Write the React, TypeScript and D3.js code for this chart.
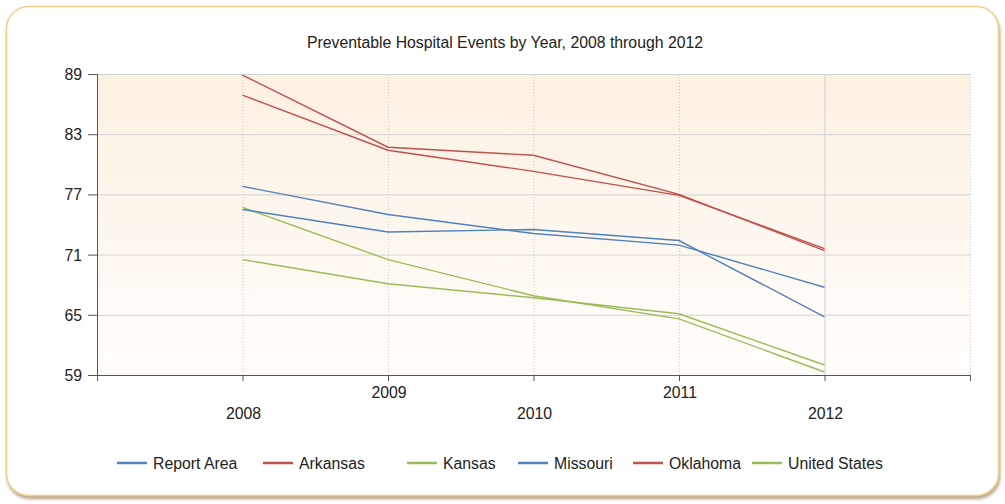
import React from "react";
import * as d3 from "d3";

const years = [2008, 2009, 2010, 2011, 2012];
const yTicks = [59, 65, 71, 77, 83, 89];
const seriesNames = ["Report Area", "Arkansas", "Kansas", "Missouri", "Oklahoma", "United States"];
const seriesColors = ["#4f81bd", "#c0504d", "#9bbb59", "#4f81bd", "#c0504d", "#9bbb59"];
const reportArea = [77.8, 75.0, 73.1, 71.95, 67.75];
const arkansas = [88.9, 81.7, 80.9, 77.0, 71.4];
const kansas = [75.7, 70.5, 66.9, 64.6, 59.3];
const missouri = [75.5, 73.25, 73.5, 72.4, 64.8];
const oklahoma = [86.9, 81.4, 79.3, 76.9, 71.6];
const unitedStates = [70.5, 68.1, 66.7, 65.1, 60.0];
const seriesValues = [reportArea, arkansas, kansas, missouri, oklahoma, unitedStates];
const title = "Preventable Hospital Events by Year, 2008 through 2012";

const W = 1005;
const H = 504;
const FONT = "'Liberation Sans', Arial, sans-serif";
const FS = 15.8;

export default function App() {
  const x = d3.scaleLinear().domain([2007, 2013]).range([97, 970]);
  const y = d3.scaleLinear().domain([59, 89]).range([375, 74]);
  const line = d3
    .line<number>()
    .x((_, i) => x(years[i]))
    .y((d) => y(d));
  const xAll = d3.range(2007, 2014);
  const legendX = [117, 263, 407, 518, 633, 752];
  const legendY = 463;

  return (
    <svg
      width={W}
      height={H}
      style={{ position: "absolute", left: 0, top: 0 }}
      fontFamily={FONT}
    >
      <defs>
        <linearGradient id="bg" x1="0" y1="0" x2="0" y2="1">
          <stop offset="0%" stopColor="#fcf0e1" />
          <stop offset="100%" stopColor="#fffdfb" />
        </linearGradient>
        <filter id="shadow" x="-5%" y="-5%" width="110%" height="115%">
          <feDropShadow dx="1" dy="3" stdDeviation="1.5" floodColor="#9a8260" floodOpacity="0.7" />
        </filter>
      </defs>
      <rect x={0} y={0} width={W} height={H} fill="#ffffff" />
      <rect
        x={6.5}
        y={6.5}
        width={992}
        height={489}
        rx={22}
        fill="#ffffff"
        stroke="#f2cf86"
        strokeWidth={1.5}
        filter="url(#shadow)"
      />
      <text x={505} y={48} textAnchor="middle" fontSize={FS} fill="#222">
        {title}
      </text>
      {/* plot background */}
      <rect x={x(2007)} y={y(89)} width={x(2013) - x(2007)} height={y(59) - y(89)} fill="url(#bg)" />
      {/* horizontal grid */}
      {yTicks.slice(1).map((t) => (
        <line key={t} x1={x(2007)} x2={x(2013)} y1={y(t) + 0.5} y2={y(t) + 0.5} stroke="#d3d3d3" strokeWidth={1} />
      ))}
      {/* vertical grid */}
      {xAll.slice(1).map((t) => (
        <line
          key={t}
          x1={x(t) + 0.5}
          x2={x(t) + 0.5}
          y1={y(89)}
          y2={y(59)}
          stroke={t === 2012 ? "#d0d0d0" : "#c8c8c8"}
          strokeWidth={1}
          strokeDasharray={t === 2012 ? undefined : "1,2"}
        />
      ))}
      {/* axes */}
      <line x1={x(2007) + 0.5} x2={x(2007) + 0.5} y1={y(89)} y2={y(59) + 5} stroke="#555" strokeWidth={1} />
      <line x1={x(2007)} x2={x(2013) + 1} y1={y(59) + 0.5} y2={y(59) + 0.5} stroke="#555" strokeWidth={1} />
      {yTicks.map((t) => (
        <g key={t}>
          <line x1={x(2007) - 9} x2={x(2007)} y1={y(t) + 0.5} y2={y(t) + 0.5} stroke="#555" />
          <text x={x(2007) - 15} y={y(t) + 6} textAnchor="end" fontSize={FS} fill="#222">
            {t}
          </text>
        </g>
      ))}
      {xAll.map((t) => (
        <line key={t} x1={x(t) + 0.5} x2={x(t) + 0.5} y1={y(59)} y2={y(59) + 6} stroke="#555" />
      ))}
      {years.map((t, i) => (
        <text
          key={t}
          x={x(t) + 1}
          y={i % 2 === 0 ? 419 : 398}
          textAnchor="middle"
          fontSize={FS}
          fill="#222"
        >
          {t}
        </text>
      ))}
      {/* series */}
      {seriesValues.map((vals, i) => (
        <path key={seriesNames[i]} d={line(vals) || ""} fill="none" stroke={seriesColors[i]} strokeWidth={1.4} />
      ))}
      {/* legend */}
      {seriesNames.map((n, i) => (
        <g key={n}>
          <line x1={legendX[i]} x2={legendX[i] + 30} y1={legendY} y2={legendY} stroke={seriesColors[i]} strokeWidth={2.5} />
          <text x={legendX[i] + 36} y={legendY + 6} fontSize={FS} fill="#222">
            {n}
          </text>
        </g>
      ))}
    </svg>
  );
}
